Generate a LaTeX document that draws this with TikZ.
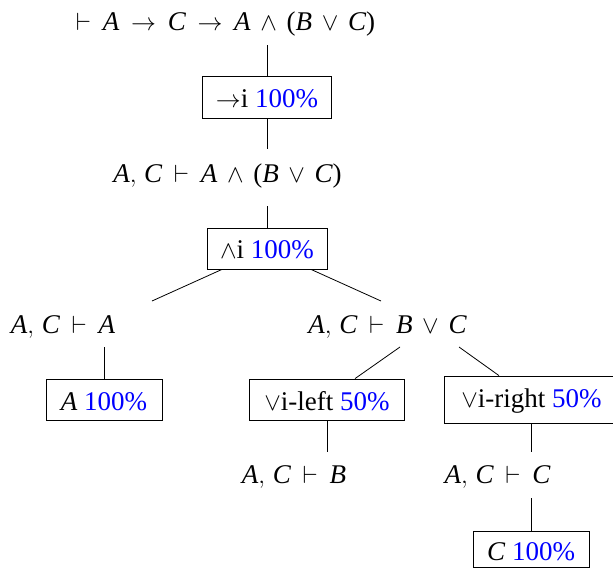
\documentclass[tikz,border=0pt]{standalone}
\usepackage{fontspec}
\setmainfont{Liberation Serif}
\usetikzlibrary{calc}
\definecolor{pct}{RGB}{0,0,255}
\newcommand{\pc}[1]{\textcolor{pct}{#1}}
\newcommand{\mA}{\textit{A}}
\newcommand{\mB}{\textit{B}}
\newcommand{\mC}{\textit{C}}
\newcommand{\lp}{\textup{(}}
\newcommand{\rp}{\textup{)}}
\thinmuskip=5.5mu
\medmuskip=7mu plus 2mu minus 2mu
\thickmuskip=8.5mu plus 2mu
\begin{document}
\begin{tikzpicture}[x=1pt,y=-1pt,
  seq/.style={anchor=base, inner sep=0pt},
  rulebox/.style={draw, line width=0.8pt, inner xsep=3pt, inner ysep=0pt, text depth=0pt},
  conn/.style={line width=0.8pt}]
\useasboundingbox (0,0) rectangle (613,568);
\fontsize{27}{32}\selectfont
% sequents
\node[seq] (root) at (225.5,30) {$\vdash \mA \to \mC \to \mA \wedge \lp\mB \vee \mC\rp$};
\node[seq] (s2) at (227.5,182) {$\mA, \mC \vdash \mA \wedge \lp\mB \vee \mC\rp$};
\node[seq] (s3) at (63,333) {$\mA, \mC \vdash \mA$};
\node[seq] (s4) at (387.5,333) {$\mA, \mC \vdash \mB \vee \mC$};
\node[seq] (s5) at (294,483) {$\mA, \mC \vdash \mB$};
\node[seq] (s6) at (497.5,483) {$\mA, \mC \vdash \mC$};
% rule boxes
\node[rulebox, minimum width=129pt, minimum height=42pt, text height=20pt] (b1) at (267,97) {$\to$i \pc{100\%}};
\node[rulebox, minimum width=120pt, minimum height=41pt, text height=19pt] (b2) at (267,248.5) {$\wedge$i \pc{100\%}};
\node[rulebox, minimum width=116pt, minimum height=41pt, text height=21pt] (a100) at (104,399.5) {\mA{} \pc{100\%}};
\node[rulebox, minimum width=155pt, minimum height=41pt, text height=21pt] (vil) at (327,399.5) {$\vee$i-left \pc{50\%}};
\node[rulebox, minimum width=174pt, minimum height=47pt, text height=15pt] (vir) at (531.5,399.5) {$\vee$i-right \pc{50\%}};
\node[rulebox, minimum width=116pt, minimum height=36.5pt, text height=21.5pt] (c100) at (531,549.25) {\mC{} \pc{100\%}};
% connectors
\draw[conn] ($(root.base)+(41.5,15)$) -- (b1.north);
\draw[conn] (b1.south) -- ($(s2.base)+(39.5,-33)$);
\draw[conn] ($(s2.base)+(39.5,24)$) -- (b2.north);
\draw[conn] ($(b2.south)+(-45,0)$) -- ($(s3.base)+(89,-32)$);
\draw[conn] ($(b2.south)+(44,0)$) -- ($(s4.base)+(-6.5,-32)$);
\draw[conn] ($(s3.base)+(41,14)$) -- (a100.north);
\draw[conn] ($(s4.base)+(12.5,14)$) -- ($(vil.north)+(28,0)$);
\draw[conn] ($(s4.base)+(71.5,14)$) -- ($(vir.north)+(-32.5,0)$);
\draw[conn] (vil.south) -- ($(s5.base)+(33,-31)$);
\draw[conn] (vir.south) -- ($(s6.base)+(34,-31)$);
\draw[conn] ($(s6.base)+(33.5,15)$) -- (c100.north);
\end{tikzpicture}
\end{document}
